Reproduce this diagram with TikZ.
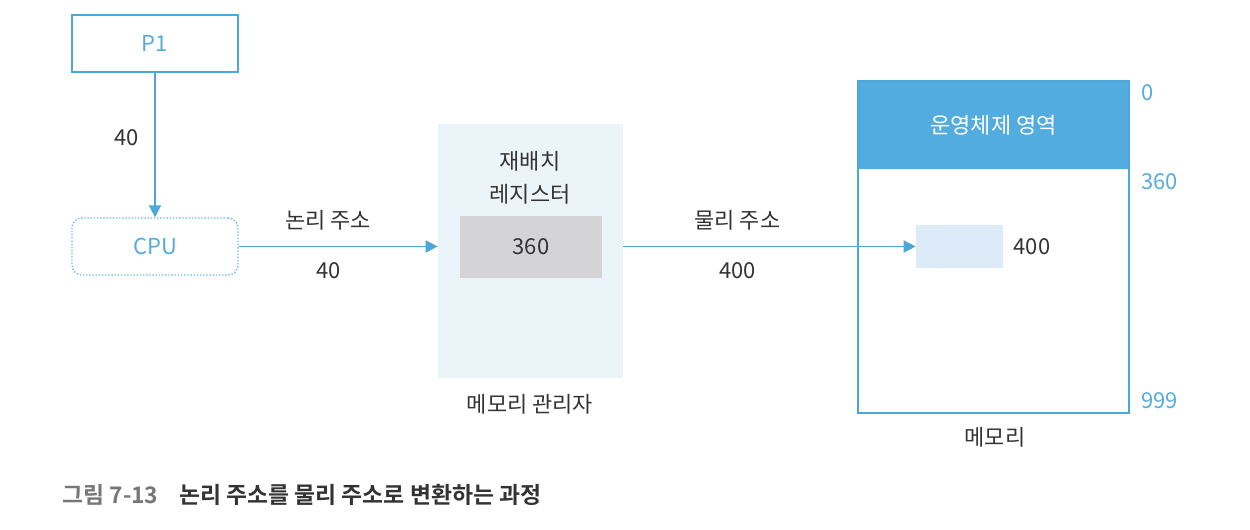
\documentclass[tikz,border=0pt]{standalone}
\usepackage{fontspec}
\setmainfont{Noto Sans CJK KR}[BoldFont={Noto Sans CJK KR Bold}]
\usetikzlibrary{arrows.meta, positioning}

\definecolor{lineblue}{HTML}{4CA7DA}
\definecolor{textblue}{HTML}{55ACDD}
\definecolor{osblue}{HTML}{52ACDF}
\definecolor{mgrfill}{HTML}{EAF4F9}
\definecolor{regfill}{HTML}{D4D4D6}
\definecolor{cellfill}{HTML}{DCEBF7}
\definecolor{darktext}{HTML}{333333}
\definecolor{capgray}{HTML}{777777}

\begin{document}
\begin{tikzpicture}[
    x=0.02cm, y=-0.02cm,
    every node/.style={inner sep=0pt, font=\fontsize{12.5pt}{15pt}\selectfont, text=darktext},
    procbox/.style={draw=lineblue, line width=1.1pt, minimum width=3.32cm, minimum height=1.14cm, text=textblue},
    cpubox/.style={draw=lineblue!80, densely dotted, line width=0.8pt, rounded corners=2mm, minimum width=3.32cm, minimum height=1.14cm, text=textblue},
    flow/.style={-{Triangle[length=2.4mm, width=2.4mm]}, draw=lineblue, line width=1.1pt},
    addrlab/.style={text=textblue, anchor=west},
    caplab/.style={font=\bfseries\fontsize{13pt}{15pt}\selectfont, anchor=west},
    ]
  \useasboundingbox (0,0) rectangle (1250,530);

  \node[procbox] (p1) at (155, 43.5) {P1};
  \node[cpubox] (cpu) at (155, 246.5) {CPU};

  \node[fill=mgrfill, minimum width=3.7cm, minimum height=5.08cm] (mgr) at (530.5, 251) {};
  \node[align=center, font=\fontsize{12.5pt}{19pt}\selectfont] (reglab) at (530, 178) {재배치\\레지스터};
  \node[fill=regfill, minimum width=2.84cm, minimum height=1.24cm] (reg) at (531, 247) {360};
  \node (mgrlab) at (530, 404) {메모리 관리자};

  \node[fill=osblue, minimum width=5.42cm, minimum height=1.76cm, text=white] (os) at (993.5, 125) {운영체제 영역};
  \node[draw=lineblue, line width=1.1pt, minimum width=5.42cm, minimum height=6.64cm] (mem) at (993.5, 247) {};
  \node[fill=cellfill, minimum width=1.74cm, minimum height=0.88cm] (cell) at (959.5, 246.5) {};
  \node[right=0.2cm of cell] (celllab) {400};
  \node (memlab) at (995, 437) {메모리};

  \node[addrlab] (a0) at (1141, 93) {0};
  \node[addrlab] (a360) at (1141, 182) {360};
  \node[addrlab] (a999) at (1141, 401) {999};

  \draw[flow] (p1) -- (cpu) node[pos=0.45, left=0.3cm] {40};
  \draw[flow] (cpu.east) -- (cpu.east -| mgr.west)
    node[pos=0.45, above=0.3cm] {논리 주소}
    node[pos=0.45, below=0.3cm] {40};
  \draw[flow] (cell -| mgr.east) -- (cell.west)
    node[pos=0.39, above=0.3cm] {물리 주소}
    node[pos=0.39, below=0.3cm] {400};

  \node[caplab, text=capgray] (capnum) at (62, 495) {그림 7-13};
  \node[caplab, right=0.4cm of capnum] (captext) {논리 주소를 물리 주소로 변환하는 과정};
\end{tikzpicture}
\end{document}
